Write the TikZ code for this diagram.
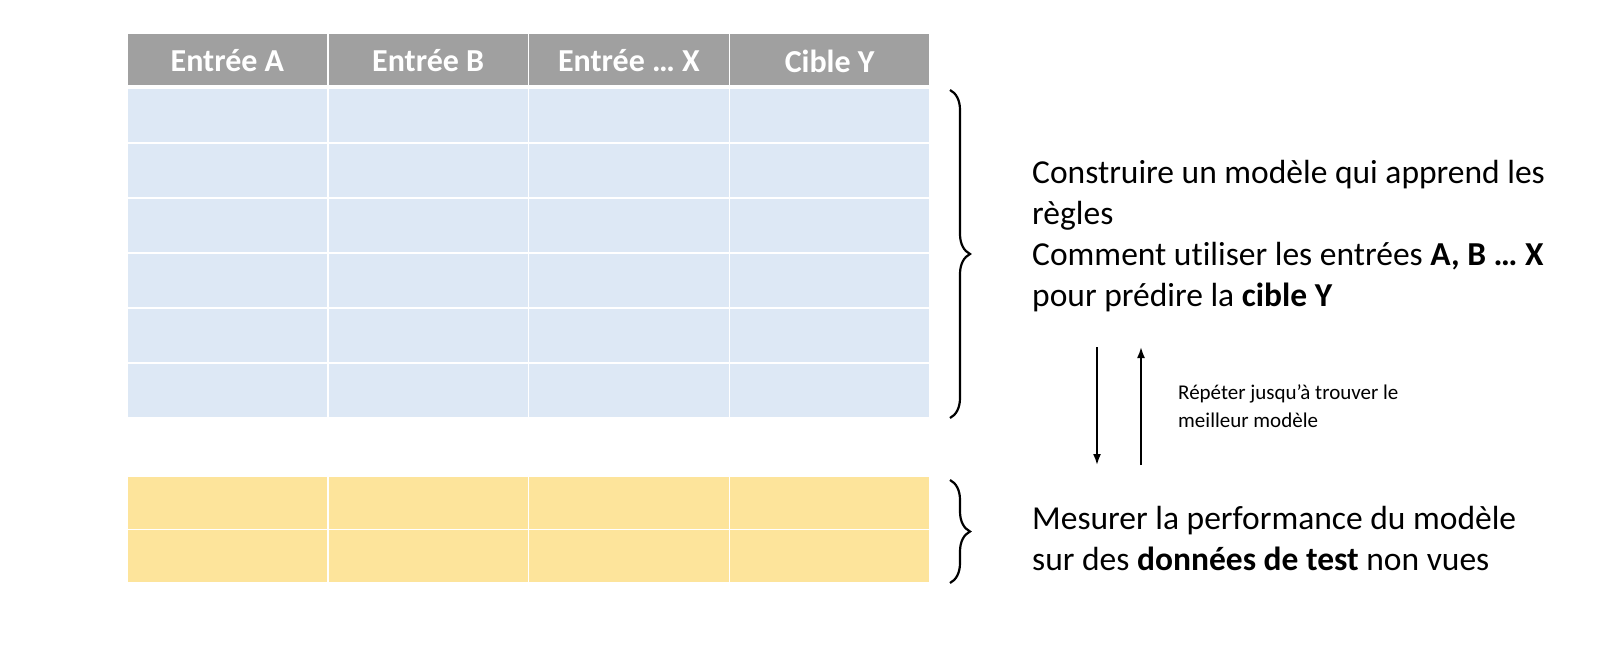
\documentclass[tikz,border=0pt]{standalone}
\usepackage{fontspec}
\setmainfont{Carlito}[Ligatures=NoCommon]
\usetikzlibrary{decorations.pathreplacing,arrows.meta}
\definecolor{hdr}{HTML}{A0A0A0}
\definecolor{blu}{HTML}{DDE8F5}
\definecolor{yel}{HTML}{FDE49B}
\begin{document}
\begin{tikzpicture}[x=1pt,y=-1pt,
  cell/.style={draw=white,line width=1.5pt},
  htxt/.style={text=white,font=\fontsize{32}{36}\selectfont\bfseries},
  big/.style={anchor=west,align=left,inner sep=0pt,font=\fontsize{33.5}{41}\selectfont},
  small/.style={anchor=west,align=left,inner sep=0pt,font=\fontsize{21}{28}\selectfont},
  brace/.style={decorate,decoration={brace,amplitude=20pt,aspect=0.5},line width=2.2pt},
  arr/.style={-{Latex[length=11pt,width=8pt]},line width=1.8pt}]
\useasboundingbox (0,0) rectangle (1612,656);
% header
\foreach \i/\t in {0/{Entrée A},1/{Entrée B},2/{Entrée … X},3/{Cible Y}}{
  \fill[hdr,cell] (127+\i*200.75,33) rectangle (127+\i*200.75+200.75,86);
  \node[htxt] (h\i) at (127+\i*200.75+100.4,61) {\t};
}
\foreach \i in {0,...,3}{
 \foreach \j in {0,...,5}{
  \fill[blu,cell] (127+\i*200.75,88+\j*55) rectangle (127+\i*200.75+200.75,143+\j*55);
 }
 \foreach \j in {0,1}{
  \fill[yel,cell] (127+\i*200.75,476+\j*53.5) rectangle (127+\i*200.75+200.75,529.5+\j*53.5);
 }
}
\coordinate (b1t) at (950,90);
\coordinate (b1b) at (950,418);
\coordinate (b2t) at (950,480);
\coordinate (b2b) at (950,583);
\draw[brace] (b1t) -- (b1b);
\draw[brace] (b2t) -- (b2b);
\node[big] (t1) at (1032,236) {Construire un modèle qui apprend les\\règles\\Comment utiliser les entrées \textbf{A, B … X}\\pour prédire la \textbf{cible Y}};
\node[big] (t2) at (1032,538) {Mesurer la performance du modèle\\sur des \textbf{données de test} non vues};
\coordinate (a1s) at (1097,347);
\coordinate (a1e) at (1097,465);
\coordinate (a2s) at (1141,465);
\coordinate (a2e) at (1141,347);
\draw[arr] (a1s) -- (a1e);
\draw[arr] (a2s) -- (a2e);
\node[small] (t3) at (1178,406) {Répéter jusqu\symbol{39}à trouver le\\meilleur modèle};
\end{tikzpicture}
\end{document}
